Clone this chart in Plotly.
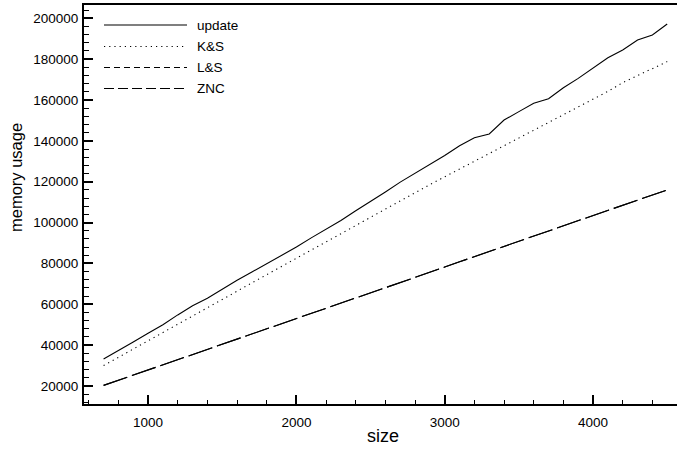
import plotly.graph_objects as go

sizes = [700, 800, 900, 1000, 1100, 1200, 1300, 1400, 1500, 1600, 1700, 1800, 1900,
         2000, 2100, 2200, 2300, 2400, 2500, 2600, 2700, 2800, 2900, 3000, 3100, 3200,
         3300, 3400, 3500, 3600, 3700, 3800, 3900, 4000, 4100, 4200, 4300, 4400, 4500]

update = [33200, 37200, 41500, 45800, 50000, 54800, 59300, 63000, 67500, 71800, 75800, 79800, 84000,
          88000, 92500, 96800, 101000, 105800, 110300, 115000, 119800, 124000, 128200, 132800, 137600, 141500,
          143400, 150200, 154300, 158400, 160600, 166000, 170600, 175500, 180700, 184500, 189400, 191800, 197200]

ks = [30000, 34000, 38100, 42100, 46200, 50200, 54300, 58300, 62400, 66400, 70500, 74500, 78600,
      82600, 86700, 90700, 94800, 98800, 102900, 106900, 110900, 114800, 118600, 122400, 126200, 130000,
      133800, 137600, 141400, 145200, 149000, 152800, 156600, 160400, 164200, 168500, 172000, 175500, 178800]

ls = [20300, 22800, 25300, 27800, 30400, 32900, 35400, 37900, 40400, 43000, 45500, 48000, 50500,
      53000, 55600, 58100, 60600, 63100, 65600, 68200, 70700, 73200, 75700, 78200, 80800, 83300,
      85800, 88300, 90800, 93400, 95900, 98400, 100900, 103400, 106000, 108500, 111000, 113500, 116000]

znc = [20300, 22800, 25300, 27800, 30400, 32900, 35400, 37900, 40400, 43000, 45500, 48000, 50500,
       53000, 55600, 58100, 60600, 63100, 65600, 68200, 70700, 73200, 75700, 78200, 80800, 83300,
       85800, 88300, 90800, 93400, 95900, 98400, 100900, 103400, 106000, 108500, 111000, 113500, 116000]

names = ["update", "K&S", "L&S", "ZNC"]
series = [update, ks, ls, znc]
plot_dash = ["solid", "1.2px,4px", "25px,5px", "25px,5px"]
legend_dash = ["solid", "1.2px,4px", "6px,4px", "10px,4px"]

x_title = "size"
y_title = "memory usage"

FONT = "Liberation Sans, Arial, Helvetica, sans-serif"
W, H = 677, 449
ML, MR, MT, MB = 84, 0, 5, 45
PW, PH = W - ML - MR, H - MT - MB

fig = go.Figure()
for name, ys, dash in zip(names, series, plot_dash):
    fig.add_trace(go.Scatter(x=sizes, y=ys, mode="lines", name=name,
                             line=dict(color="black", width=1.1, dash=dash),
                             showlegend=False, hoverinfo="skip"))

def px2paper(px, py):
    return (px - ML) / PW, (H - MB - py) / PH

shapes = []
annotations = []
leg_y = [25, 46.5, 67.5, 88.5]
for name, dash, ly in zip(names, legend_dash, leg_y):
    x0, y0 = px2paper(104, ly)
    x1, _ = px2paper(187, ly)
    shapes.append(dict(type="line", xref="paper", yref="paper", x0=x0, x1=x1, y0=y0, y1=y0,
                       line=dict(color="black", width=1.1, dash=dash)))
    tx, ty = px2paper(195, ly)
    annotations.append(dict(xref="paper", yref="paper", x=tx, y=ty, text=name, showarrow=False,
                            xanchor="left", yanchor="middle",
                            font=dict(family=FONT, size=13.5, color="black")))

# axis titles
tx, ty = px2paper(383, 436)
annotations.append(dict(xref="paper", yref="paper", x=tx, y=ty, text=x_title, showarrow=False,
                        xanchor="center", yanchor="middle",
                        font=dict(family=FONT, size=18, color="black")))
tx, ty = px2paper(16, 178)
annotations.append(dict(xref="paper", yref="paper", x=tx, y=ty, text=y_title, showarrow=False,
                        xanchor="center", yanchor="middle", textangle=-90,
                        font=dict(family=FONT, size=16.5, color="black")))

fig.update_layout(
    width=W, height=H,
    margin=dict(l=ML, r=MR, t=MT, b=MB, autoexpand=False),
    paper_bgcolor="white", plot_bgcolor="white",
    font=dict(family=FONT, size=13.5, color="black"),
    shapes=shapes, annotations=annotations,
    showlegend=False,
)
fig.update_xaxes(
    range=[568, 4566], showgrid=False, zeroline=False, automargin=False,
    showline=True, linecolor="black", linewidth=2, mirror=True,
    ticks="inside", ticklen=9, tickwidth=1.5, tickcolor="black",
    tick0=0, dtick=1000, tickformat="d",
    minor=dict(ticks="inside", ticklen=4, tickwidth=1, tickcolor="black", dtick=200, showgrid=False),
    tickfont=dict(family=FONT, size=13.5, color="black"),
    ticklabelstandoff=5,
)
fig.update_yaxes(
    range=[11190, 206500], showgrid=False, zeroline=False, automargin=False,
    showline=True, linecolor="black", linewidth=2,
    ticks="inside", ticklen=9, tickwidth=1.5, tickcolor="black",
    tick0=0, dtick=20000, tickformat="d",
    minor=dict(ticks="inside", ticklen=5, tickwidth=1, tickcolor="black", dtick=4000, showgrid=False),
    tickfont=dict(family=FONT, size=13.5, color="black"),
    ticklabelstandoff=1,
)

fig.write_html(
    "out.html",
    config={"displayModeBar": False},
    post_script="document.body.style.margin='0';document.body.style.padding='0';"
                "document.body.style.overflow='hidden';",
)
